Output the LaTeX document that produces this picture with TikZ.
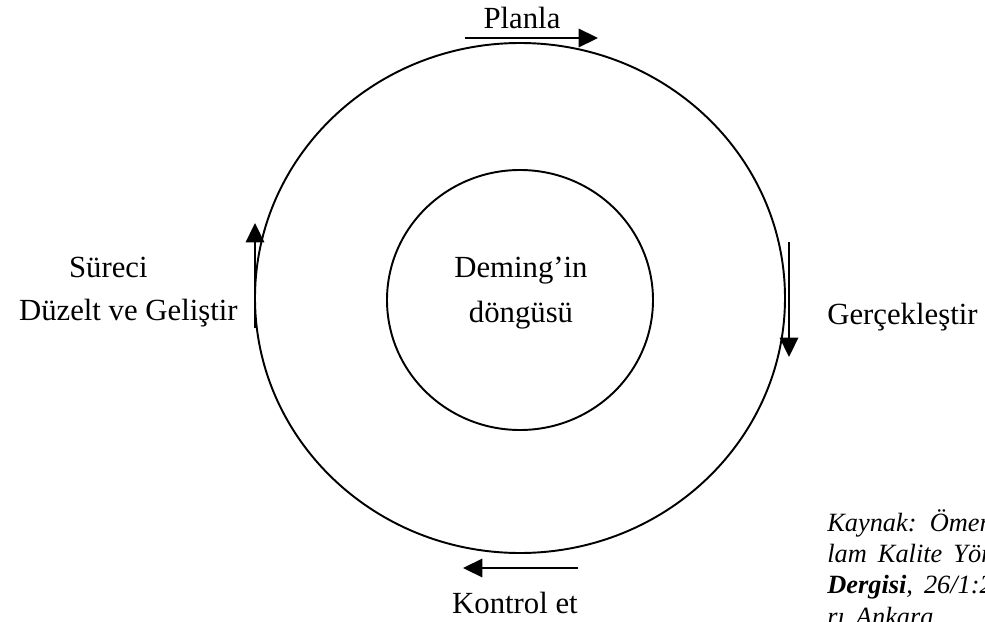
\documentclass[tikz,border=0pt]{standalone}
\usepackage{fontspec}
\setmainfont{Liberation Serif}
\usetikzlibrary{arrows.meta}

% justified source note: wider word gaps
\newcommand\widegaps{\spaceskip 0.42em\relax}

\tikzset{
  ring/.style = {line width = 1.1pt},
  cyclearrow/.style = {line width = 1.0pt, -{Triangle[length=11pt, width=10.5pt]}},
  steplabel/.style = {inner sep = 0pt, font = \fontsize{17.5}{21}\selectfont},
  sourceline/.style = {inner sep = 0pt, anchor = base west, font = \fontsize{15}{18}\selectfont\itshape\widegaps}
}

\begin{document}
\begin{tikzpicture}[x = 0.02cm, y = -0.02cm]
    \useasboundingbox (0, 0) rectangle (985, 622);
    \clip (0, 0) rectangle (985, 622);

    \coordinate (centre) at (520, 298);
    \def\outerrx{265}
    \def\outerry{255}
    \def\innerrx{133}
    \def\innerry{130}

    % the two rings
    \draw[ring] (centre) ellipse [x radius = \outerrx, y radius = \outerry];
    \draw[ring] (520, 300) ellipse [x radius = \innerrx, y radius = \innerry];

    \node[steplabel, anchor = base] (deming) at (521, 277) {Deming’in};
    \node[steplabel, anchor = base] (dongu) at (521, 322) {döngüsü};

    % step arrows round the cycle
    \coordinate (planA) at (465, 38);
    \coordinate (planB) at (598, 38);
    \draw[cyclearrow] (planA) -- (planB);
    \node[steplabel, anchor = base] (planla) at (522, 29) {Planla};

    \coordinate (doA) at (789, 242);
    \coordinate (doB) at (789, 357);
    \draw[cyclearrow] (doA) -- (doB);
    \node[steplabel, anchor = base west] (gercek) at (827, 324) {Gerçekleştir};

    \coordinate (checkA) at (578, 568);
    \coordinate (checkB) at (463, 568);
    \draw[cyclearrow] (checkA) -- (checkB);
    \node[steplabel, anchor = base] (kontrol) at (515, 613) {Kontrol et};

    \coordinate (actA) at (255, 328);
    \coordinate (actB) at (255, 223);
    \draw[cyclearrow] (actA) -- (actB);
    \node[steplabel, anchor = base east] (sureci) at (148, 277) {Süreci};
    \node[steplabel, anchor = base east] (duzelt) at (238, 320) {Düzelt ve Geliştir};

    % source note, runs off the page edge
    \node[sourceline] (kaynak1) at (827, 531) {Kaynak: Ömer};
    \node[sourceline] (kaynak2) at (827, 562) {lam Kalite Yön};
    \node[sourceline] (kaynak3) at (827, 593) {\textbf{Dergisi}, 26/1:2};
    \node[sourceline] (kaynak4) at (827, 625) {rı Ankara};

\end{tikzpicture}
\end{document}
